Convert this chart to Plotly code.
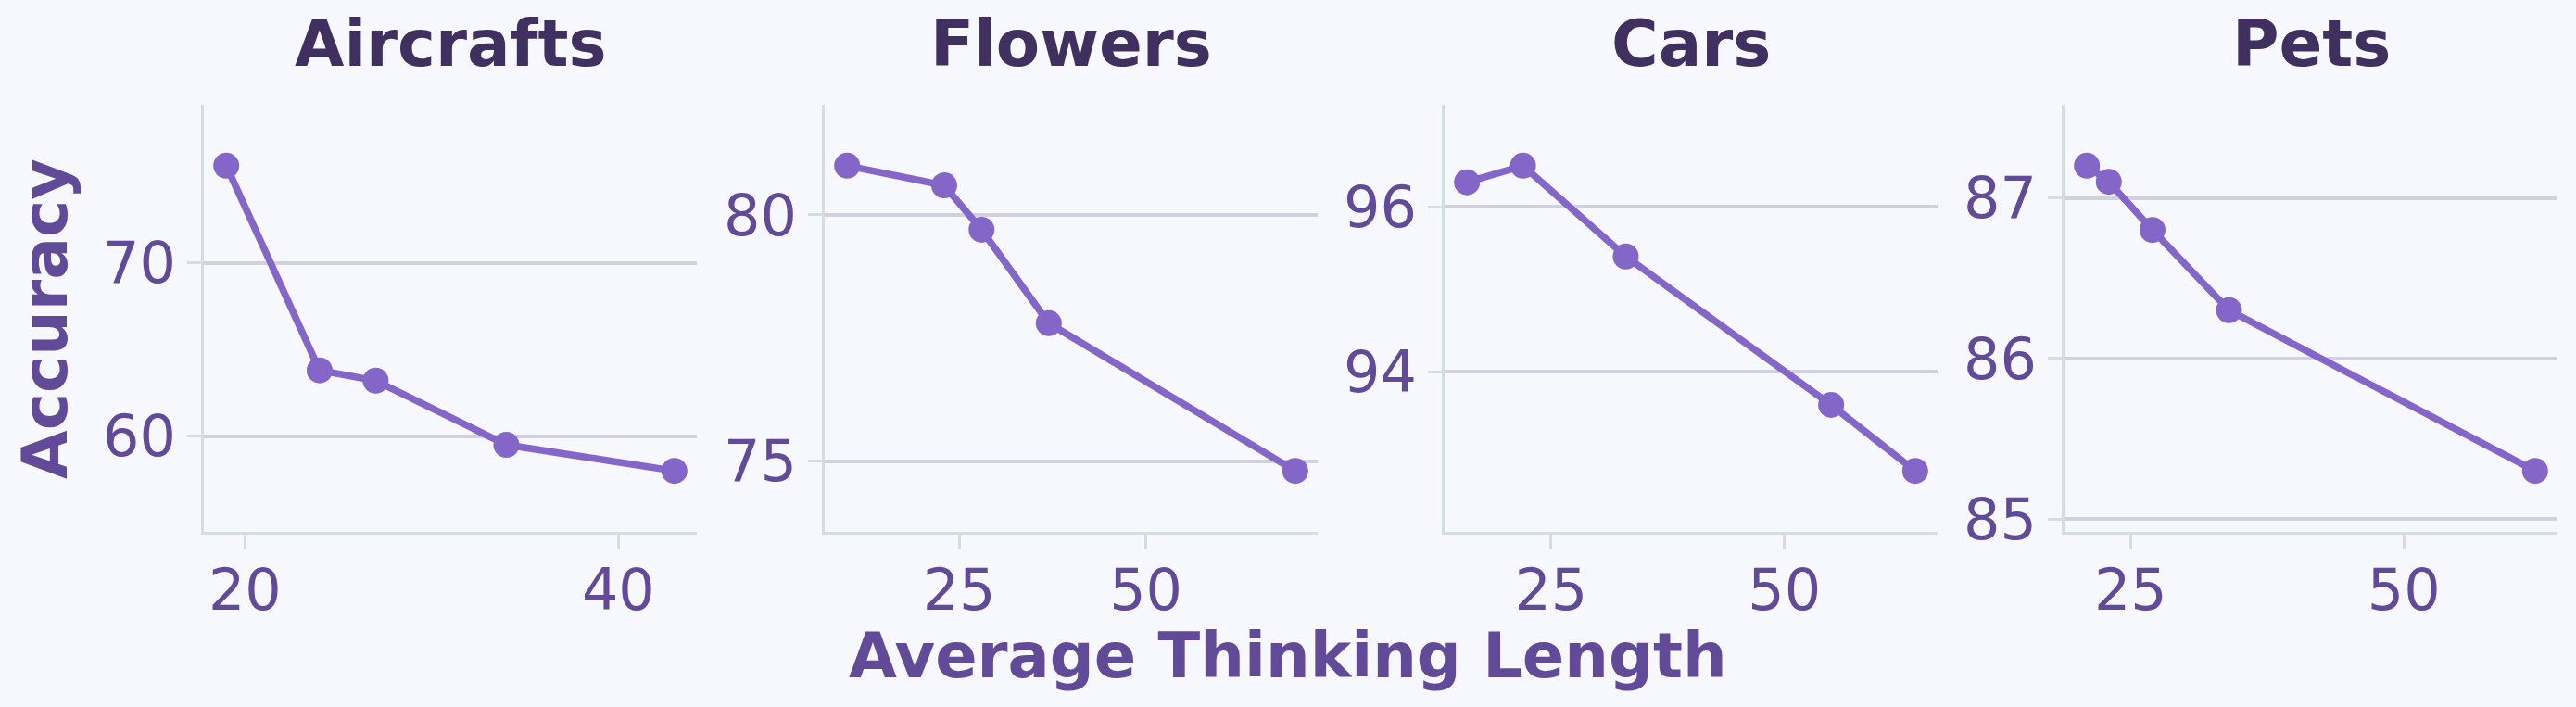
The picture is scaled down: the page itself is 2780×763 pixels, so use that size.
import plotly.graph_objects as go

# dados de cada painel
titles = ['Aircrafts', 'Flowers', 'Cars', 'Pets']

aircrafts_x = [19, 24, 27, 34, 43]
aircrafts_y = [75.6, 63.8, 63.2, 59.5, 58.0]

flowers_x = [10, 23, 28, 37, 70]
flowers_y = [81.0, 80.6, 79.7, 77.8, 74.8]

cars_x = [16, 22, 33, 55, 64]
cars_y = [96.3, 96.5, 95.4, 93.6, 92.8]

pets_x = [21, 23, 27, 34, 62]
pets_y = [87.2, 87.1, 86.8, 86.3, 85.3]

xs = [aircrafts_x, flowers_x, cars_x, pets_x]
ys = [aircrafts_y, flowers_y, cars_y, pets_y]
x_dticks = [20, 25, 25, 25]
y_dticks = [10, 5, 2, 1]

W, H = 2780, 763
BG = '#f7f8fe'
LINE = '#8465c8'
TICK = '#614a98'
TITLE = '#3f3060'
AXIS = '#d3dede'
GRID = '#d0d0df'
FONT = 'DejaVu Sans'

# posições dos painéis em pixels
left_px = [220, 890, 1559, 2228]
panel_w = 532
top_px, bottom_px = 113, 574

fig = go.Figure()
layout = {}
annotations = []

for i in range(4):
    n = '' if i == 0 else str(i + 1)
    fig.add_trace(go.Scatter(
        x=xs[i], y=ys[i], mode='lines+markers',
        line=dict(color=LINE, width=7.5),
        marker=dict(color=LINE, size=28),
        xaxis='x' + n, yaxis='y' + n, showlegend=False,
    ))

    # margens de 5% no x e 20% no y
    xmin, xmax = min(xs[i]), max(xs[i])
    ymin, ymax = min(ys[i]), max(ys[i])
    xm = (xmax - xmin) * 0.05
    ym = (ymax - ymin) * 0.2

    x0 = left_px[i] / W
    x1 = (left_px[i] + panel_w) / W
    layout['xaxis' + n] = dict(
        domain=[x0, x1], anchor='y' + n, range=[xmin - xm, xmax + xm],
        dtick=x_dticks[i], tick0=0, showgrid=False, zeroline=False,
        showline=True, linecolor=AXIS, linewidth=2.5, automargin=False,
        ticks='outside', ticklen=15, tickwidth=2.5, tickcolor=AXIS,
        tickfont=dict(family=FONT, size=62, color=TICK),
        ticklabelstandoff=-8,
    )
    layout['yaxis' + n] = dict(
        domain=[1 - bottom_px / H, 1 - top_px / H], anchor='x' + n,
        range=[ymin - ym, ymax + ym], dtick=y_dticks[i], tick0=0,
        showgrid=True, gridcolor=GRID, gridwidth=3.5, zeroline=False,
        showline=True, linecolor=AXIS, linewidth=2.5, automargin=False,
        ticks='outside', ticklen=15, tickwidth=2.5, tickcolor=AXIS,
        tickfont=dict(family=FONT, size=62, color=TICK),
    )
    annotations.append(dict(
        text='<b>' + titles[i] + '</b>', x=(x0 + x1) / 2, y=1 - 47 / H,
        xref='paper', yref='paper', xanchor='center', yanchor='middle',
        showarrow=False, font=dict(family=FONT, size=69, color=TITLE),
    ))

annotations.append(dict(
    text='<b>Average Thinking Length</b>', x=0.5, y=1 - 708 / H,
    xref='paper', yref='paper', xanchor='center', yanchor='middle',
    showarrow=False, font=dict(family=FONT, size=67, color=TICK),
))
annotations.append(dict(
    text='<b>Accuracy</b>', x=48 / W, y=1 - 344 / H, textangle=-90,
    xref='paper', yref='paper', xanchor='center', yanchor='middle',
    showarrow=False, font=dict(family=FONT, size=68, color=TICK),
))

fig.update_layout(
    width=W, height=H,
    margin=dict(l=0, r=0, t=0, b=0, autoexpand=False),
    paper_bgcolor=BG, plot_bgcolor=BG,
    annotations=annotations,
    **layout,
)

# tira a margem padrão da página
js = ("document.body.style.margin='0';"
      "document.body.style.background='#f7f8fe';")
fig.write_html('out.html', config={'displayModeBar': False}, post_script=js)
